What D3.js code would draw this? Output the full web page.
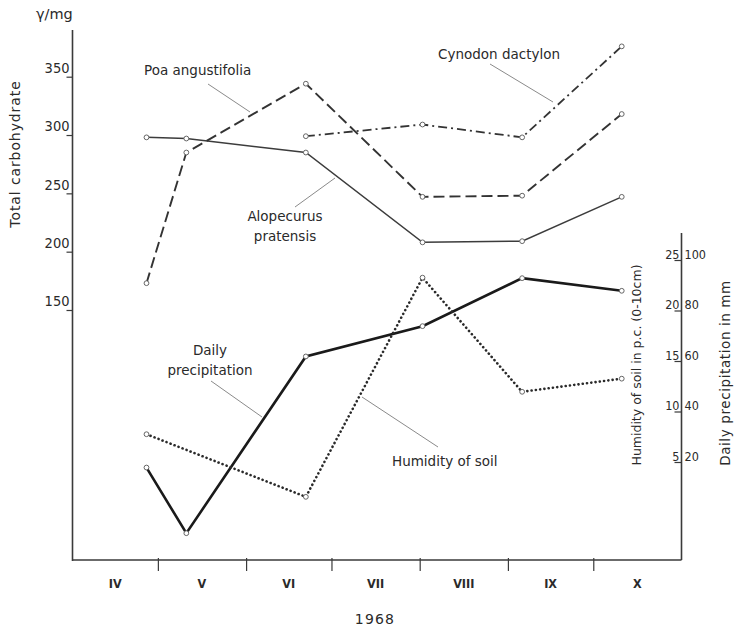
<!DOCTYPE html>
<html>
<head>
<meta charset="utf-8">
<script src="https://cdn.jsdelivr.net/npm/d3@7"></script>
<style>
  html, body { margin: 0; padding: 0; background: #fff; }
  svg text { font-family: "DejaVu Sans", sans-serif; fill: #2a2a2a; }
  .cond { font-family: "DejaVu Sans Condensed", "DejaVu Sans", sans-serif; }
</style>
</head>
<body>
<div id="chart"></div>
<script>
// sampling dates and the months on the x axis
const months = ["IV", "V", "VI", "VII", "VIII", "IX", "X"];
const sampleDates = ["1968-04-27", "1968-05-11", "1968-06-22", "1968-08-02", "1968-09-06", "1968-10-11"];

// total carbohydrate, γ/mg
const alopecurus = [298, 297, 285, 208, 209, 247];
const poa = [173, 285, 344, 247, 248, 318];
const cynodon = [null, null, 299, 309, 298, 376];

// right axis series
const precipitation = [18, -8, 62, 74, 93, 88];   // mm
const humidity = [7.8, null, 1.6, 23.3, 12.0, 13.3]; // p.c.

const carbTicks = [150, 200, 250, 300, 350];
const humidityTicks = [5, 10, 15, 20, 25];
const precipTicks = [20, 40, 60, 80, 100];

document.addEventListener('DOMContentLoaded', function(){
  drawChart();
});

function drawChart() {
  const width = 734, height = 629;
  const svg = d3.select("#chart").append("svg")
    .attr("width", width)
    .attr("height", height);

  const parse = d3.timeParse("%Y-%m-%d");
  const x = d3.scaleTime()
    .domain([new Date(1968, 3, 1), new Date(1968, 10, 1)])
    .range([72.5, 681.5]);

  const yCarb = d3.scaleLinear().domain([150, 350]).range([310, 76.7]);
  const yHum = d3.scaleLinear().domain([0, 25]).range([513, 260.5]);
  const yPrec = d3.scaleLinear().domain([0, 100]).range([513, 260.5]);

  const axisColor = "#3a3a3a";
  const baseY = 560;

  // left axis
  svg.append("line")
    .attr("x1", 72.5).attr("x2", 72.5)
    .attr("y1", 30).attr("y2", baseY + 1)
    .attr("stroke", axisColor).attr("stroke-width", 1.6);

  const leftAxis = svg.append("g")
    .attr("transform", "translate(72.5,0)")
    .call(d3.axisLeft(yCarb).tickValues(carbTicks).tickSize(6).tickFormat(d3.format("d")));
  leftAxis.select(".domain").remove();
  leftAxis.selectAll(".tick line").attr("stroke", axisColor).attr("stroke-width", 1.2);
  leftAxis.selectAll(".tick text")
    .attr("x", -3).attr("dy", "-0.3em")
    .style("font-size", "14.5px")
    .style("font-family", "DejaVu Sans Condensed, DejaVu Sans, sans-serif")
    .attr("fill", "#2a2a2a");

  svg.append("text")
    .attr("x", 36).attr("y", 19)
    .style("font-size", "14.5px")
    .text("γ/mg");

  svg.append("text")
    .attr("transform", "translate(20,154) rotate(-90)")
    .attr("text-anchor", "middle")
    .style("font-size", "14px")
    .style("letter-spacing", "0.9px")
    .text("Total carbohydrate");

  // x axis
  svg.append("line")
    .attr("x1", 72.5).attr("x2", 681.5)
    .attr("y1", baseY).attr("y2", baseY)
    .attr("stroke", axisColor).attr("stroke-width", 1.6);

  const monthStarts = d3.timeMonth.range(new Date(1968, 3, 1), new Date(1968, 11, 1));
  const xAxis = svg.append("g")
    .attr("transform", "translate(0," + (baseY - 2) + ")")
    .call(d3.axisBottom(x).tickValues(monthStarts.slice(1, 7)).tickSize(13).tickFormat(""));
  xAxis.select(".domain").remove();
  xAxis.selectAll(".tick line").attr("stroke", axisColor).attr("stroke-width", 1.2);

  svg.append("g").selectAll("text")
    .data(months)
    .enter().append("text")
    .attr("class", "cond")
    .attr("x", (d, i) => (x(monthStarts[i]) + x(monthStarts[i + 1])) / 2)
    .attr("y", 588)
    .attr("text-anchor", "middle")
    .style("font-size", "12.5px")
    .style("font-weight", "bold")
    .attr("fill", "#333")
    .text(d => d);

  svg.append("text")
    .attr("x", 375).attr("y", 624)
    .attr("text-anchor", "middle")
    .style("font-size", "14px")
    .style("letter-spacing", "1.2px")
    .text("1968");

  // right axis
  const rx = 681.5;
  svg.append("line")
    .attr("x1", rx).attr("x2", rx)
    .attr("y1", 233).attr("y2", baseY)
    .attr("stroke", axisColor).attr("stroke-width", 1.6);

  const rTicks = svg.append("g").selectAll("g")
    .data(humidityTicks)
    .enter().append("g");
  rTicks.append("line")
    .attr("x1", rx - 7).attr("x2", rx)
    .attr("y1", d => yHum(d)).attr("y2", d => yHum(d))
    .attr("stroke", axisColor).attr("stroke-width", 1.2);
  rTicks.append("text")
    .attr("class", "cond")
    .attr("x", rx - 2).attr("y", d => yHum(d) - 2)
    .attr("text-anchor", "end")
    .style("font-size", "12.5px")
    .text(d => d);

  svg.append("g").selectAll("text")
    .data(precipTicks)
    .enter().append("text")
    .attr("class", "cond")
    .attr("x", rx + 3).attr("y", d => yPrec(d) - 2)
    .style("font-size", "12.5px")
    .text(d => d);

  svg.append("text")
    .attr("transform", "translate(641,365) rotate(-90)")
    .attr("text-anchor", "middle")
    .style("font-size", "12.5px")
    .text("Humidity of soil in p.c. (0-10cm)");

  svg.append("text")
    .attr("transform", "translate(730,373) rotate(-90)")
    .attr("text-anchor", "middle")
    .style("font-size", "13.5px")
    .style("letter-spacing", "0.6px")
    .text("Daily precipitation  in  mm");

  // series
  const series = [
    { values: alopecurus, y: yCarb, dash: null, w: 1.5, color: "#3c3c3c", cap: "butt" },
    { values: poa, y: yCarb, dash: "11,5", w: 1.9, color: "#333", cap: "butt" },
    { values: cynodon, y: yCarb, dash: "9,4,2,4", w: 1.8, color: "#333", cap: "butt" },
    { values: precipitation, y: yPrec, dash: null, w: 2.6, color: "#1a1a1a", cap: "butt" },
    { values: humidity, y: yHum, dash: "0.1,4.2", w: 2.6, color: "#2a2a2a", cap: "round" }
  ];

  series.forEach(function(s) {
    const pts = sampleDates.map((d, i) => ({ date: parse(d), v: s.values[i] }))
      .filter(p => p.v !== null);
    const line = d3.line()
      .x(p => x(p.date))
      .y(p => s.y(p.v));
    svg.append("path")
      .datum(pts)
      .attr("d", line)
      .attr("fill", "none")
      .attr("stroke", s.color)
      .attr("stroke-width", s.w)
      .attr("stroke-linecap", s.cap)
      .attr("stroke-dasharray", s.dash);
    svg.append("g").selectAll("circle")
      .data(pts)
      .enter().append("circle")
      .attr("cx", p => x(p.date))
      .attr("cy", p => s.y(p.v))
      .attr("r", 2.4)
      .attr("fill", "#fff")
      .attr("stroke", "#666")
      .attr("stroke-width", 1);
  });

  // labels with leader lines
  const labels = [
    { lines: ["Poa angustifolia"], x: 144, y: 75, anchor: "start", lead: [208, 84, 250, 112] },
    { lines: ["Cynodon dactylon"], x: 438, y: 59, anchor: "start", lead: [490, 64, 553, 102] },
    { lines: ["Alopecurus", "pratensis"], x: 285, y: 221, anchor: "middle", lead: [295, 207, 335, 178] },
    { lines: ["Daily", "precipitation"], x: 210, y: 355, anchor: "middle", lead: [211, 381, 262, 417] },
    { lines: ["Humidity of soil"], x: 392, y: 466, anchor: "start", lead: [362, 397, 438, 447] }
  ];

  labels.forEach(function(l) {
    svg.append("line")
      .attr("x1", l.lead[0]).attr("y1", l.lead[1])
      .attr("x2", l.lead[2]).attr("y2", l.lead[3])
      .attr("stroke", "#8a8a8a").attr("stroke-width", 1);
    l.lines.forEach(function(t, i) {
      svg.append("text")
        .attr("x", l.x).attr("y", l.y + i * 20)
        .attr("text-anchor", l.anchor)
        .style("font-size", "13.5px")
        .text(t);
    });
  });
}
</script>
</body>
</html>
